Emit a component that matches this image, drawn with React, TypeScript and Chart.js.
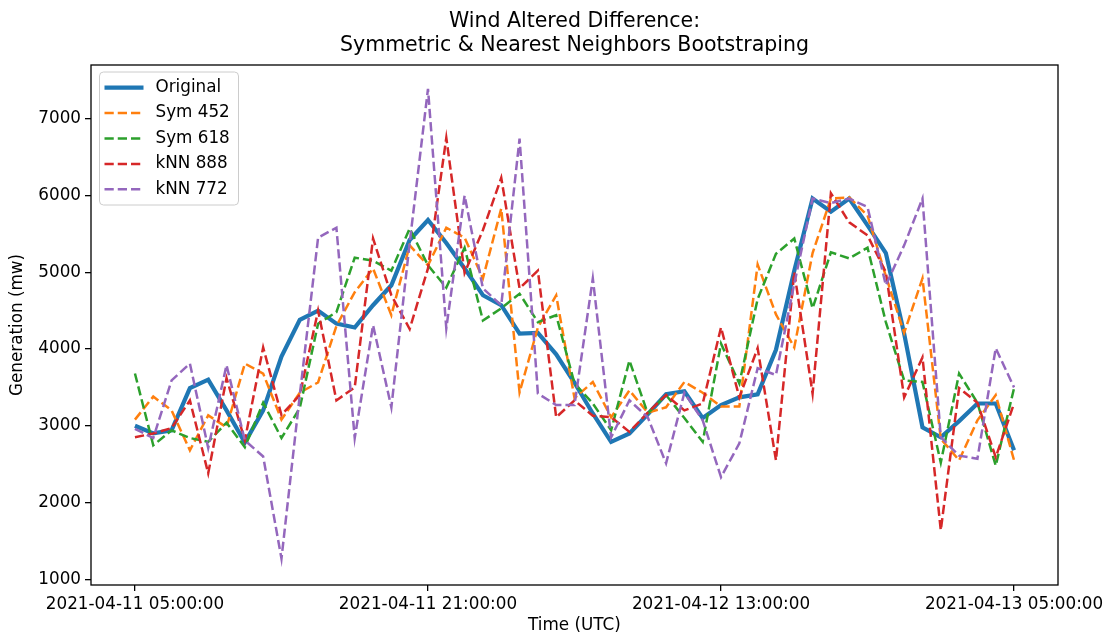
import React, { useEffect, useRef } from "react";
import { Chart, registerables } from "chart.js";

Chart.register(...registerables);

// hour offsets from 2021-04-11 05:00:00 UTC (hourly samples)
const hourOffsets: number[] = Array.from({ length: 49 }, (_, i) => i);

const original = [3000, 2900, 2940, 3490, 3600, 3200, 2780, 3200, 3900, 4380, 4500, 4330, 4280, 4570, 4830, 5420, 5680, 5380, 5050, 4700, 4570, 4200, 4210, 3930, 3560, 3160, 2790, 2900, 3150, 3410, 3450, 3100, 3270, 3370, 3410, 3990, 5020, 5960, 5790, 5960, 5610, 5250, 4200, 2980, 2850, 3060, 3290, 3290, 2680];
const sym452 = [3080, 3380, 3200, 2680, 3135, 2980, 3810, 3680, 3080, 3430, 3565, 4300, 4740, 5050, 4440, 5350, 5090, 5580, 5450, 4920, 5830, 3435, 4280, 4700, 3360, 3570, 3110, 3460, 3170, 3240, 3570, 3430, 3250, 3250, 5100, 4450, 4020, 5250, 5960, 5975, 5740, 4950, 4210, 4920, 2830, 2550, 3070, 3400, 2550];
const sym618 = [3680, 2745, 2940, 2840, 2790, 3040, 2720, 3300, 2840, 3230, 4330, 4480, 5190, 5150, 5020, 5570, 5090, 4800, 5320, 4370, 4530, 4720, 4350, 4440, 3550, 3290, 2940, 3850, 3160, 3400, 3100, 2790, 4070, 3550, 4650, 5240, 5440, 4530, 5260, 5180, 5320, 4350, 3590, 3570, 2520, 3680, 3300, 2480, 3490];
const knn888 = [2850, 2900, 2970, 3330, 2380, 3620, 2810, 4020, 3140, 3400, 4500, 3330, 3500, 5440, 4700, 4260, 5050, 6750, 4990, 5550, 6230, 4790, 5020, 3110, 3330, 3130, 3110, 2920, 3170, 3400, 3200, 3290, 4280, 3370, 4010, 2550, 5000, 3420, 6030, 5650, 5480, 5000, 3370, 3890, 1640, 3490, 3300, 2590, 3290];
const knn772 = [2960, 2840, 3590, 3810, 2710, 3790, 2810, 2600, 1270, 3400, 5450, 5580, 2840, 4310, 3240, 5380, 7390, 4270, 6000, 4790, 4570, 6740, 3420, 3270, 3270, 4920, 2850, 3330, 3110, 2510, 3430, 3070, 2330, 2770, 3750, 3660, 4850, 5960, 5900, 5960, 5850, 4830, 5350, 5960, 2850, 2610, 2570, 4010, 3500];

const seriesNames = ["Original", "Sym 452", "Sym 618", "kNN 888", "kNN 772"];
const seriesColors = ["#1f77b4", "#ff7f0e", "#2ca02c", "#d62728", "#9467bd"];
const seriesValues = [original, sym452, sym618, knn888, knn772];

const xTickHours = [0, 16, 32, 48];
const xTickLabels = ["2021-04-11 05:00:00", "2021-04-11 21:00:00", "2021-04-12 13:00:00", "2021-04-13 05:00:00"];
const yTickValues = [1000, 2000, 3000, 4000, 5000, 6000, 7000];

const titleLines = ["Wind Altered Difference:", "Symmetric & Nearest Neighbors Bootstraping"];
const xAxisLabel = "Time (UTC)";
const yAxisLabel = "Generation (mw)";

const FONT = '"DejaVu Sans", sans-serif';
const TICK_SIZE = 16.8;
const DASH = [9.25, 4];

const overlayPlugin = {
  id: "overlay",
  afterDraw(chart: any) {
    const { ctx, chartArea: a } = chart;
    ctx.save();
    // frame
    ctx.strokeStyle = "#000";
    ctx.lineWidth = 1.3;
    ctx.setLineDash([]);
    ctx.strokeRect(a.left, a.top, a.right - a.left, a.bottom - a.top);
    // title
    const cx = (a.left + a.right) / 2;
    ctx.fillStyle = "#000";
    ctx.textAlign = "center";
    ctx.textBaseline = "middle";
    ctx.font = `20.5px ${FONT}`;
    ctx.fillText(titleLines[0], cx, 22);
    ctx.fillText(titleLines[1], cx, 46);
    // axis labels
    ctx.font = `${TICK_SIZE}px ${FONT}`;
    ctx.fillText(xAxisLabel, cx, 626);
    ctx.save();
    ctx.translate(18, (a.top + a.bottom) / 2);
    ctx.rotate(-Math.PI / 2);
    ctx.fillText(yAxisLabel, 0, 0);
    ctx.restore();
    // legend
    const lx = a.left + 8.5, ly = a.top + 7, lw = 139, lh = 133, r = 4;
    ctx.beginPath();
    ctx.moveTo(lx + r, ly);
    ctx.lineTo(lx + lw - r, ly);
    ctx.quadraticCurveTo(lx + lw, ly, lx + lw, ly + r);
    ctx.lineTo(lx + lw, ly + lh - r);
    ctx.quadraticCurveTo(lx + lw, ly + lh, lx + lw - r, ly + lh);
    ctx.lineTo(lx + r, ly + lh);
    ctx.quadraticCurveTo(lx, ly + lh, lx, ly + lh - r);
    ctx.lineTo(lx, ly + r);
    ctx.quadraticCurveTo(lx, ly, lx + r, ly);
    ctx.closePath();
    ctx.fillStyle = "rgba(255,255,255,0.8)";
    ctx.fill();
    ctx.strokeStyle = "#cccccc";
    ctx.lineWidth = 1;
    ctx.stroke();
    ctx.textAlign = "left";
    seriesNames.forEach((name, i) => {
      const y = ly + 15.7 + i * 25.4;
      ctx.beginPath();
      ctx.strokeStyle = seriesColors[i];
      if (i === 0) {
        ctx.setLineDash([]);
        ctx.lineWidth = 4.2;
      } else {
        ctx.setLineDash(DASH);
        ctx.lineWidth = 2.5;
      }
      ctx.moveTo(lx + 5, y);
      ctx.lineTo(lx + 44, y);
      ctx.stroke();
      ctx.setLineDash([]);
      ctx.fillStyle = "#000";
      ctx.fillText(name, lx + 56, y);
    });
    ctx.restore();
  },
};

export default function App() {
  const ref = useRef<HTMLCanvasElement>(null);
  useEffect(() => {
    if (!ref.current) return;
    const datasets = seriesNames.map((name, si) => ({
      label: name,
      data: hourOffsets.map((h, i) => ({ x: h, y: seriesValues[si][i] })),
      borderColor: seriesColors[si],
      backgroundColor: seriesColors[si],
      borderWidth: si === 0 ? 4.2 : 2.5,
      borderDash: si === 0 ? [] : DASH,
      pointRadius: 0,
      tension: 0,
      fill: false,
      order: seriesNames.length - si,
    }));
    const chart = new Chart(ref.current, {
      type: "line",
      data: { datasets },
      options: {
        animation: false,
        responsive: false,
        maintainAspectRatio: false,
        layout: { padding: { top: 65, right: 49, left: 0, bottom: 0 } },
        plugins: {
          legend: { display: false },
          title: { display: false },
          tooltip: { enabled: false },
        },
        scales: {
          x: {
            type: "linear",
            min: -2.4,
            max: 50.4,
            afterBuildTicks: (s: any) => {
              s.ticks = xTickHours.map((v) => ({ value: v }));
            },
            afterFit: (s: any) => {
              s.height = 48;
              s.paddingLeft = 0;
              s.paddingRight = 0;
            },
            ticks: {
              autoSkip: false,
              maxRotation: 0,
              padding: 4,
              color: "#000",
              font: { family: FONT, size: TICK_SIZE },
              callback: (v: any) => xTickLabels[xTickHours.indexOf(Number(v))] ?? "",
            },
            grid: { drawOnChartArea: false, drawTicks: true, tickLength: 6, color: "#000", lineWidth: 1.3 },
            border: { display: false },
          },
          y: {
            type: "linear",
            min: 925,
            max: 7700,
            afterBuildTicks: (s: any) => {
              s.ticks = yTickValues.map((v) => ({ value: v }));
            },
            afterFit: (s: any) => {
              s.width = 91;
              s.paddingTop = 0;
              s.paddingBottom = 0;
            },
            ticks: {
              padding: 4,
              color: "#000",
              font: { family: FONT, size: TICK_SIZE },
              callback: (v: any) => String(v),
            },
            grid: { drawOnChartArea: false, drawTicks: true, tickLength: 6, color: "#000", lineWidth: 1.3 },
            border: { display: false },
          },
        },
      },
      plugins: [overlayPlugin],
    });
    return () => chart.destroy();
  }, []);
  return (
    <div style={{ position: "fixed", left: 0, top: 0, width: 1107, height: 633, background: "#fff" }}>
      <canvas ref={ref} width={1107} height={633} style={{ display: "block" }} />
    </div>
  );
}
